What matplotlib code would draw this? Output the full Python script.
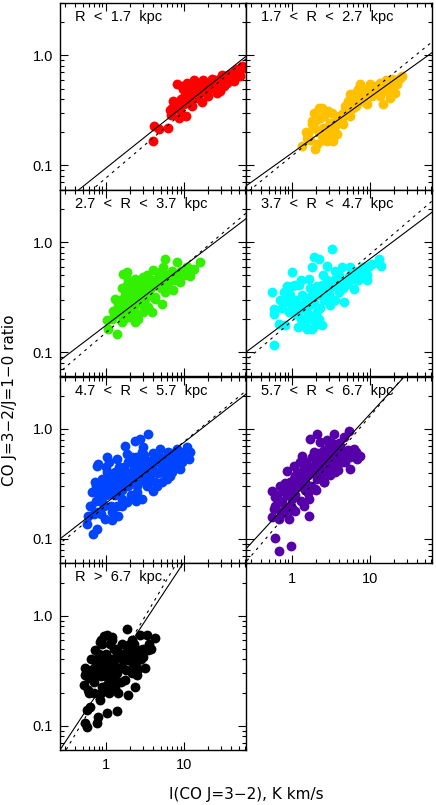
"""
CO J=3-2 / J=1-0 line ratio against CO J=3-2 intensity, in radial bins.
"""

import numpy as np
import matplotlib
matplotlib.use("Agg")
import matplotlib.pyplot as plt
from matplotlib.ticker import FixedLocator, LogLocator, NullFormatter

plt.rcParams['font.family'] = ['Liberation Sans', 'DejaVu Sans']

titles = ["R  <  1.7  kpc", "1.7  <  R  <  2.7  kpc", "2.7  <  R  <  3.7  kpc",
          "3.7  <  R  <  4.7  kpc", "4.7  <  R  <  5.7  kpc", "5.7  <  R  <  6.7  kpc",
          "R  >  6.7  kpc."]
colors = ["#ff0000", "#ffc000", "#33f000", "#00ffff", "#0044ff", "#5500a8", "#000000"]

# I(CO 3-2) [K km/s] and ratio per radial bin
x1 = [4.05, 4.1, 4.83, 6.2, 6.6, 6.8, 8.5, 8.9, 9.3, 10.6, 12.5, 9.3, 9.6, 10.8, 11.4,
      13.2, 14.5, 16, 16.8, 17.7, 19.5, 20.5, 22.7, 23.7, 26, 29, 30.5, 35, 38.8, 43,
      47, 52, 55, 32, 16, 12, 43, 49, 7.3, 14.5, 29, 60, 25, 18,
      7, 8, 9, 10, 11, 12, 13, 14, 15, 17, 19, 21, 23, 25, 27, 30, 33, 36, 40, 45,
      50, 54, 11, 8, 20, 35, 40, 45, 10, 13]
y1 = [0.166, 0.228, 0.212, 0.22, 0.32, 0.29, 0.27, 0.31, 0.37, 0.28, 0.35, 0.53, 0.5,
      0.47, 0.43, 0.6, 0.55, 0.46, 0.38, 0.6, 0.53, 0.43, 0.61, 0.51, 0.46, 0.58, 0.67,
      0.56, 0.65, 0.7, 0.75, 0.65, 0.8, 0.53, 0.56, 0.38, 0.59, 0.7, 0.385, 0.41, 0.47,
      0.77, 0.55, 0.48,
      0.33, 0.35, 0.4, 0.42, 0.45, 0.5, 0.48, 0.52, 0.5, 0.52, 0.56, 0.55, 0.58, 0.6,
      0.6, 0.62, 0.63, 0.66, 0.68, 0.72, 0.74, 0.76, 0.56, 0.55, 0.48, 0.6, 0.62, 0.65,
      0.36, 0.42]

x2 = [1.33, 1.54, 1.79, 2.07, 2.4, 1.97, 2.78, 3.07, 3.39, 3.74, 2.52, 2.29, 2.4, 2.92,
      3.07, 3.56, 4.12, 4.55, 5.02, 5.54, 4.55, 5.27, 6.11, 6.75, 7.08, 7.82, 8.22, 9.06,
      9.52, 10.5, 11.0, 12.2, 13.4, 14.8, 16.4, 17.2, 19.0, 20.9, 22.0, 24.3, 25.5, 7.45,
      5.54, 1.79, 1.62, 13.4, 18.0,
      1.5, 1.7, 1.9, 2.2, 2.5, 2.7, 3.0, 3.3, 3.6, 4.0, 4.3, 5.0, 5.5, 6.0, 6.5, 7.0,
      8.0, 9.0, 10.0, 11.0, 12.0, 13.0, 14.0, 15.0, 17.0, 19.0, 21.0, 23.0, 1.9, 2.2,
      2.6, 3.2, 2.0, 4.8, 6.0, 8.0, 10.0, 16.0]
y2 = [0.150, 0.179, 0.253, 0.155, 0.185, 0.14, 0.166, 0.198, 0.166, 0.191, 0.22, 0.271,
      0.334, 0.312, 0.244, 0.228, 0.253, 0.301, 0.323, 0.281, 0.236, 0.385, 0.334, 0.412,
      0.491, 0.385, 0.442, 0.359, 0.508, 0.427, 0.526, 0.474, 0.565, 0.359, 0.474, 0.565,
      0.605, 0.458, 0.545, 0.627, 0.649, 0.545, 0.442, 0.236, 0.198, 0.427, 0.412,
      0.2, 0.17, 0.22, 0.2, 0.17, 0.2, 0.23, 0.21, 0.25, 0.28, 0.27, 0.3, 0.35, 0.37,
      0.35, 0.4, 0.42, 0.45, 0.48, 0.45, 0.5, 0.52, 0.48, 0.55, 0.52, 0.5, 0.58, 0.6,
      0.3, 0.33, 0.28, 0.3, 0.26, 0.35, 0.45, 0.5, 0.55, 0.6]

x3 = [1.02, 1.07, 1.37, 1.24, 1.30, 1.59, 1.67, 1.75, 1.84, 2.13, 2.35, 2.47, 2.6, 2.73,
      3.01, 3.16, 3.49, 3.66, 4.05, 4.25, 4.69, 5.17, 5.43, 5.7, 6.3, 6.95, 7.3, 8.05,
      8.89, 9.8, 10.8, 11.9, 13.2, 16.0, 1.67, 1.84, 2.13, 2.87, 1.44, 2.03, 3.01, 4.92,
      5.7, 7.67, 2.6, 3.85, 2.35, 3.49,
      1.2, 1.4, 1.5, 1.6, 1.8, 1.9, 2.0, 2.2, 2.3, 2.5, 2.7, 2.8, 3.0, 3.2, 3.4, 3.6,
      3.8, 4.0, 4.4, 4.8, 5.0, 5.4, 6.0, 6.5, 7.0, 8.0, 9.0, 10.0, 11.0, 12.0, 1.7,
      2.0, 2.6, 3.0, 4.2, 2.4, 1.9, 1.6, 3.3]
y3 = [0.194, 0.163, 0.147, 0.239, 0.305, 0.187, 0.239, 0.328, 0.404, 0.285, 0.187, 0.223,
      0.351, 0.449, 0.481, 0.305, 0.256, 0.377, 0.553, 0.305, 0.418, 0.275, 0.593, 0.705,
      0.418, 0.515, 0.364, 0.658, 0.433, 0.515, 0.593, 0.497, 0.573, 0.658, 0.515, 0.541,
      0.404, 0.404, 0.266, 0.208, 0.231, 0.533, 0.351, 0.449, 0.285, 0.231, 0.464, 0.449,
      0.2, 0.22, 0.3, 0.27, 0.25, 0.3, 0.35, 0.32, 0.25, 0.3, 0.38, 0.33, 0.4, 0.36,
      0.42, 0.33, 0.45, 0.4, 0.45, 0.5, 0.38, 0.45, 0.5, 0.45, 0.55, 0.5, 0.55, 0.5,
      0.6, 0.55, 0.2, 0.22, 0.2, 0.27, 0.32, 0.45, 0.45, 0.38, 0.5]

x4 = [0.582, 0.554, 0.582, 0.582, 0.675, 0.782, 0.822, 0.822, 1.0, 0.952, 1.10, 1.22,
      1.28, 1.41, 1.48, 1.64, 1.72, 1.80, 1.90, 1.80, 2.09, 2.2, 2.31, 2.42, 2.42, 2.81,
      2.95, 3.1, 3.26, 3.6, 3.96, 4.38, 4.6, 5.33, 5.6, 6.17, 6.8, 7.9, 8.3, 9.6, 10.6,
      12.9, 13.6, 9.16, 1.34, 1.64, 1.56, 2.2, 2.95, 4.38, 1.10, 0.906,
      0.7, 0.75, 0.9, 1.0, 1.1, 1.2, 1.3, 1.4, 1.5, 1.6, 1.7, 1.8, 1.9, 2.0, 2.1, 2.3,
      2.5, 2.6, 2.8, 3.0, 3.3, 3.5, 3.8, 4.0, 4.5, 5.0, 5.5, 6.0, 7.0, 7.0, 8.0, 9.0,
      1.2, 1.5, 2.0, 1.3, 1.0, 0.85, 2.5, 3.5]
y4 = [0.115, 0.351, 0.248, 0.223, 0.181, 0.351, 0.285, 0.175, 0.533, 0.328, 0.223, 0.404,
      0.266, 0.175, 0.194, 0.464, 0.316, 0.163, 0.73, 0.593, 0.239, 0.705, 0.328, 0.404,
      0.175, 0.613, 0.39, 0.266, 0.869, 0.464, 0.351, 0.593, 0.285, 0.497, 0.593, 0.377,
      0.449, 0.497, 0.553, 0.613, 0.637, 0.705, 0.613, 0.449, 0.328, 0.266, 0.163, 0.201,
      0.305, 0.433, 0.404, 0.231,
      0.3, 0.25, 0.3, 0.25, 0.3, 0.22, 0.2, 0.25, 0.3, 0.22, 0.38, 0.2, 0.28, 0.34, 0.4,
      0.25, 0.35, 0.3, 0.45, 0.34, 0.4, 0.3, 0.4, 0.5, 0.38, 0.42, 0.45, 0.5, 0.45,
      0.55, 0.6, 0.5, 0.17, 0.17, 0.18, 0.45, 0.4, 0.4, 0.5, 0.55]

x5 = [0.565, 0.594, 0.624, 0.655, 0.688, 0.759, 0.759, 0.798, 0.879, 0.925, 0.971, 1.02,
      1.02, 1.13, 1.18, 1.24, 1.37, 1.44, 1.51, 1.67, 1.75, 1.84, 1.84, 2.03, 2.24, 2.35,
      2.47, 2.73, 2.73, 2.87, 3.01, 3.16, 3.49, 3.66, 4.05, 4.25, 4.47, 4.92, 5.17, 5.7,
      6.3, 6.62, 7.3, 8.05, 8.89, 9.8, 10.8, 11.4, 11.9, 1.30, 1.59, 2.35, 2.87, 3.49,
      5.17, 6.95, 0.798, 0.723, 1.59, 1.37, 2.13, 4.25, 2.87,
      0.65, 0.7, 0.75, 0.8, 0.85, 0.9, 0.95, 1.0, 1.05, 1.1, 1.15, 1.2, 1.25, 1.3, 1.4,
      1.45, 1.5, 1.6, 1.7, 1.8, 1.9, 1.9, 2.0, 2.1, 2.2, 2.3, 2.4, 2.5, 2.6, 2.7, 2.9,
      3.0, 3.1, 3.3, 3.5, 3.7, 3.9, 4.0, 4.3, 4.6, 4.8, 5.2, 5.5, 5.8, 6.2, 6.6, 7.0,
      7.5, 8.0, 8.5, 9.5, 10.0, 11.0, 0.75, 0.9, 1.0, 1.1, 0.85, 1.2, 1.6, 2.4, 3.3,
      4.5, 6.0]
y5 = [0.137, 0.163, 0.201, 0.266, 0.111, 0.123, 0.464, 0.481, 0.215, 0.316, 0.152, 0.404,
      0.553, 0.256, 0.175, 0.351, 0.533, 0.163, 0.275, 0.404, 0.705, 0.593, 0.215, 0.328,
      0.497, 0.783, 0.266, 0.404, 0.811, 0.613, 0.681, 0.328, 0.901, 0.515, 0.275, 0.404,
      0.573, 0.658, 0.328, 0.464, 0.613, 0.377, 0.515, 0.658, 0.433, 0.573, 0.681, 0.533,
      0.613, 0.404, 0.231, 0.404, 0.231, 0.404, 0.464, 0.404, 0.175, 0.328, 0.328, 0.201,
      0.55, 0.328, 0.497,
      0.2, 0.17, 0.22, 0.25, 0.3, 0.27, 0.2, 0.25, 0.3, 0.35, 0.2, 0.3, 0.4, 0.25, 0.3,
      0.45, 0.35, 0.28, 0.45, 0.35, 0.3, 0.5, 0.4, 0.25, 0.35, 0.45, 0.55, 0.3, 0.42,
      0.5, 0.35, 0.45, 0.58, 0.4, 0.5, 0.35, 0.45, 0.6, 0.5, 0.4, 0.55, 0.5, 0.4, 0.55,
      0.5, 0.6, 0.45, 0.58, 0.5, 0.62, 0.5, 0.62, 0.58, 0.3, 0.35, 0.45, 0.5, 0.17,
      0.15, 0.2, 0.22, 0.3, 0.3, 0.35]

x6 = [0.611, 0.675, 0.98, 0.554, 0.582, 0.554, 0.611, 0.675, 0.708, 0.782, 0.822, 0.863,
      0.906, 0.952, 1.0, 1.05, 1.10, 1.16, 1.28, 1.34, 1.41, 1.48, 1.64, 1.72, 1.80, 1.90,
      1.99, 2.09, 2.31, 2.42, 2.55, 2.81, 2.95, 3.26, 3.42, 3.6, 3.96, 4.17, 4.38, 4.6,
      5.07, 5.33, 5.6, 6.17, 6.8, 7.52, 1.64, 2.2, 2.95, 1.48, 1.10, 0.73, 2.31, 3.26,
      0.6, 0.65, 0.7, 0.75, 0.8, 0.85, 0.9, 0.95, 1.0, 1.05, 1.1, 1.15, 1.2, 1.25, 1.3,
      1.4, 1.45, 1.5, 1.6, 1.7, 1.75, 1.8, 1.9, 2.0, 2.1, 2.2, 2.3, 2.4, 2.5, 2.6, 2.7,
      2.9, 3.0, 3.1, 3.3, 3.5, 3.7, 3.9, 4.2, 4.5, 4.8, 5.2, 5.5, 6.0, 6.5, 1.3, 0.85,
      1.0, 1.6, 2.0, 2.6, 4.0, 3.2, 2.8]
y6 = [0.101, 0.077, 0.086, 0.157, 0.187, 0.275, 0.239, 0.152, 0.215, 0.275, 0.187, 0.418,
      0.152, 0.328, 0.231, 0.464, 0.181, 0.295, 0.377, 0.573, 0.201, 0.328, 0.163, 0.811,
      0.433, 0.613, 0.285, 0.901, 0.756, 0.404, 0.328, 0.497, 0.705, 0.573, 0.901, 0.404,
      0.593, 0.705, 0.497, 0.84, 0.573, 0.966, 0.433, 0.658, 0.533, 0.573, 0.231, 0.404,
      0.404, 0.433, 0.377, 0.175, 0.533, 0.433,
      0.2, 0.25, 0.3, 0.22, 0.32, 0.25, 0.3, 0.2, 0.28, 0.35, 0.25, 0.4, 0.3, 0.5, 0.35,
      0.42, 0.28, 0.5, 0.38, 0.45, 0.3, 0.55, 0.4, 0.5, 0.35, 0.6, 0.45, 0.55, 0.4,
      0.65, 0.5, 0.45, 0.6, 0.38, 0.5, 0.65, 0.5, 0.42, 0.55, 0.62, 0.5, 0.65, 0.55,
      0.6, 0.62, 0.22, 0.17, 0.19, 0.26, 0.28, 0.33, 0.75, 0.75, 0.8]

x7 = [0.576, 0.538, 0.759, 0.798, 0.576, 0.624, 1.04, 1.37, 0.538, 0.538, 0.522, 0.594,
      0.624, 0.723, 0.838, 0.925, 0.971, 1.02, 0.88, 0.838, 1.13, 1.18, 1.24, 1.30, 1.44,
      1.37, 1.59, 1.59, 1.75, 1.93, 1.84, 1.93, 2.13, 2.24, 2.35, 2.47, 2.6, 2.73, 2.73,
      3.01, 3.16, 3.32, 3.49, 4.25, 0.759, 1.13, 0.759, 1.24, 1.02, 1.93, 1.18, 2.13,
      0.723, 2.24,
      0.55, 0.6, 0.65, 0.7, 0.75, 0.8, 0.85, 0.9, 0.95, 1.0, 1.0, 1.05, 1.1, 1.15, 1.2,
      1.25, 1.3, 1.35, 1.4, 1.5, 1.55, 1.6, 1.7, 1.8, 1.85, 2.0, 2.1, 2.3, 2.5, 2.6,
      2.8, 3.0, 3.5, 3.8, 0.6, 0.7, 0.85, 1.1, 1.3, 0.65, 0.8, 0.9, 1.2, 0.95, 0.85]
y7 = [0.098, 0.105, 0.105, 0.121, 0.139, 0.149, 0.129, 0.137, 0.331, 0.288, 0.234, 0.21,
      0.278, 0.485, 0.577, 0.367, 0.32, 0.663, 0.226, 0.171, 0.557, 0.242, 0.394, 0.288,
      0.196, 0.502, 0.343, 0.407, 0.26, 0.19, 0.762, 0.538, 0.597, 0.367, 0.226, 0.288,
      0.394, 0.663, 0.485, 0.502, 0.331, 0.663, 0.485, 0.632, 0.407, 0.394, 0.288, 0.26,
      0.234, 0.394, 0.64, 0.3, 0.343, 0.45,
      0.3, 0.27, 0.32, 0.25, 0.3, 0.35, 0.28, 0.3, 0.38, 0.28, 0.45, 0.35, 0.3, 0.4,
      0.32, 0.5, 0.35, 0.42, 0.3, 0.45, 0.25, 0.55, 0.4, 0.32, 0.48, 0.42, 0.5, 0.55,
      0.45, 0.33, 0.4, 0.42, 0.55, 0.5, 0.2, 0.2, 0.2, 0.2, 0.22, 0.4, 0.45, 0.55, 0.6,
      0.65, 0.6]

xs = [x1, x2, x3, x4, x5, x6, x7]
ys = [y1, y2, y3, y4, y5, y6, y7]

# fitted power laws, log10(ratio) = a + b*log10(I)
solid_a = [-1.024, -0.887, -0.756, -0.685, -0.674, -0.635, -0.586]
solid_b = [0.567, 0.509, 0.541, 0.534, 0.553, 0.772, 1.076]
dash_a = [-1.114, -0.913, -0.822, -0.716, -0.698, -0.717, -0.606]
dash_b = [0.604, 0.578, 0.606, 0.608, 0.583, 0.835, 1.2]

W, H = 436, 805
fig = plt.figure(figsize=(W / 100, H / 100), dpi=100)

pw, ph = 186, 186.75
lefts = [60, 246]
fit_x = np.array([0.2, 80.0])

for i in range(7):
    row, col = divmod(i, 2)
    top = 3 + row * ph
    ax = fig.add_axes([lefts[col] / W, 1 - (top + ph) / H, pw / W, ph / H])
    ax.set_xscale('log')
    ax.set_yscale('log')

    ax.scatter(xs[i], ys[i], s=50, c=colors[i], linewidths=0, zorder=2)
    ax.plot(fit_x, 10 ** (solid_a[i] + solid_b[i] * np.log10(fit_x)),
            color='k', lw=0.8, zorder=3)
    ax.plot(fit_x, 10 ** (dash_a[i] + dash_b[i] * np.log10(fit_x)),
            color='k', lw=0.8, ls=(0, (2.5, 4)), zorder=3)

    ax.set_xlim(0.257, 62)
    ax.set_ylim(0.06, 3.0)

    ax.xaxis.set_major_locator(FixedLocator([1, 10]))
    ax.yaxis.set_major_locator(FixedLocator([0.1, 1.0]))
    ax.xaxis.set_minor_locator(LogLocator(base=10, subs=np.arange(2, 10), numticks=20))
    ax.yaxis.set_minor_locator(LogLocator(base=10, subs=np.arange(2, 10), numticks=20))
    ax.xaxis.set_minor_formatter(NullFormatter())
    ax.yaxis.set_minor_formatter(NullFormatter())
    ax.set_xticklabels(['1', '10'])
    ax.set_yticklabels(['0.1', '1.0'])

    ax.tick_params(which='both', direction='in', top=True, right=True,
                   width=0.8, labelsize=10.5, colors='k')
    ax.tick_params(which='major', length=6)
    ax.tick_params(which='minor', length=3)
    ax.tick_params(axis='x', pad=6)
    ax.tick_params(axis='y', pad=5)
    ax.tick_params(labelbottom=(i >= 5), labelleft=(col == 0))
    for sp in ax.spines.values():
        sp.set_linewidth(1.0)

    ax.text(0.08, 0.925, titles[i], transform=ax.transAxes, fontsize=10.5,
            va='center', ha='left')

fig.text(10 / W, 1 - 400 / H, "CO J=3\u22122/J=1\u22120 ratio", rotation=90,
         ha='center', va='center', fontsize=11, family=['DejaVu Sans'])
fig.text(246 / W, 1 - 794 / H, "I(CO J=3\u22122), K km/s", ha='center', va='center',
         fontsize=11, family=['DejaVu Sans'])

fig.savefig("out.png", dpi=100)
